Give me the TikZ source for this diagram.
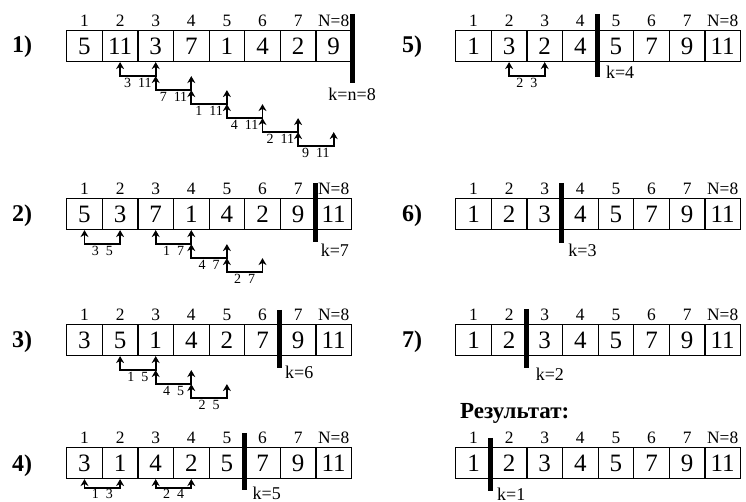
\documentclass[tikz,border=0pt]{standalone}
\usepackage{fontspec}
\setmainfont{Liberation Serif}
\usetikzlibrary{arrows.meta}
\tikzset{
    cell/.style={draw, line width=.6pt, minimum width=17.8pt, minimum height=15.5pt,
        inner sep=0pt, font=\fontsize{12.5}{14}\selectfont},
    idx/.style={inner sep=0pt, font=\fontsize{8.7}{10}\selectfont},
    num/.style={font=\bfseries\fontsize{12}{14}\selectfont},
    xchg/.style={line width=.85pt,
        {Stealth[length=3.5pt,width=4pt]}-{Stealth[length=3.5pt,width=4pt]}},
    pair/.style={below, inner sep=.8pt, font=\fontsize{7}{8}\selectfont},
    kbar/.style={line width=2.5pt},
    klabel/.style={inner sep=0pt, font=\fontsize{9}{10}\selectfont},
}
\begin{document}
\begin{tikzpicture}[x=.5pt, y=-.5pt]
    \useasboundingbox (0,0) rectangle (746,502);
    \node[num] (l1) at (22,47) {1)};
    \foreach \v [count=\i] in {5,11,3,7,1,4,2,9}
        \node[cell] (p1-\i) at ({48.9+35.6*\i},46) {\v};
    \foreach \t [count=\i] in {1,2,3,4,5,6,7,N=8}
        \node[idx, above=1.5pt] at (p1-\i.north) {\t};
    \draw[kbar] ([yshift=8pt]p1-8.north east) -- ([yshift=-10.5pt]p1-8.south east)
        node[klabel, below=1pt] (k1) {k=n=8};
    \draw[xchg] (p1-2.south) -- ++(0,14) -| node[pair, pos=.25] {3\enspace 11} (p1-3.south);
    \draw[xchg] ([yshift=-7pt]p1-3.south) -- ++(0,14) -| node[pair, pos=.25] {7\enspace 11} ([yshift=-7pt]p1-4.south);
    \draw[xchg] ([yshift=-14pt]p1-4.south) -- ++(0,14) -| node[pair, pos=.25] {1\enspace 11} ([yshift=-14pt]p1-5.south);
    \draw[xchg] ([yshift=-21pt]p1-5.south) -- ++(0,14) -| node[pair, pos=.25] {4\enspace 11} ([yshift=-21pt]p1-6.south);
    \draw[xchg] ([yshift=-28pt]p1-6.south) -- ++(0,14) -| node[pair, pos=.25] {2\enspace 11} ([yshift=-28pt]p1-7.south);
    \draw[xchg] ([yshift=-35pt]p1-7.south) -- ++(0,14) -| node[pair, pos=.25] {9\enspace 11} ([yshift=-35pt]p1-8.south);

    \node[num] (l2) at (22,216) {2)};
    \foreach \v [count=\i] in {5,3,7,1,4,2,9,11}
        \node[cell] (p2-\i) at ({48.9+35.6*\i},214) {\v};
    \foreach \t [count=\i] in {1,2,3,4,5,6,7,N=8}
        \node[idx, above=1.5pt] at (p2-\i.north) {\t};
    \draw[kbar] ([yshift=7.5pt]p2-8.north west) -- ([yshift=-6pt]p2-8.south west)
        node[klabel, anchor=west, xshift=1.5pt, yshift=-4pt] (k2) {k=7};
    \draw[xchg] (p2-1.south) -- ++(0,14) -| node[pair, pos=.25] {3\enspace 5} (p2-2.south);
    \draw[xchg] (p2-3.south) -- ++(0,14) -| node[pair, pos=.25] {1\enspace 7} (p2-4.south);
    \draw[xchg] ([yshift=-7pt]p2-4.south) -- ++(0,14) -| node[pair, pos=.25] {4\enspace 7} ([yshift=-7pt]p2-5.south);
    \draw[xchg] ([yshift=-14pt]p2-5.south) -- ++(0,14) -| node[pair, pos=.25] {2\enspace 7} ([yshift=-14pt]p2-6.south);

    \node[num] (l3) at (22,342) {3)};
    \foreach \v [count=\i] in {3,5,1,4,2,7,9,11}
        \node[cell] (p3-\i) at ({48.9+35.6*\i},340) {\v};
    \foreach \t [count=\i] in {1,2,3,4,5,6,7,N=8}
        \node[idx, above=1.5pt] at (p3-\i.north) {\t};
    \draw[kbar] ([yshift=7pt]p3-7.north west) -- ([yshift=-6pt]p3-7.south west)
        node[klabel, anchor=west, xshift=1.5pt, yshift=-2pt] (k3) {k=6};
    \draw[xchg] (p3-2.south) -- ++(0,14) -| node[pair, pos=.25] {1\enspace 5} (p3-3.south);
    \draw[xchg] ([yshift=-7pt]p3-3.south) -- ++(0,14) -| node[pair, pos=.25] {4\enspace 5} ([yshift=-7pt]p3-4.south);
    \draw[xchg] ([yshift=-14pt]p3-4.south) -- ++(0,14) -| node[pair, pos=.25] {2\enspace 5} ([yshift=-14pt]p3-5.south);

    \node[num] (l4) at (22,466) {4)};
    \foreach \v [count=\i] in {3,1,4,2,5,7,9,11}
        \node[cell] (p4-\i) at ({48.9+35.6*\i},463) {\v};
    \foreach \t [count=\i] in {1,2,3,4,5,6,7,N=8}
        \node[idx, above=1.5pt] at (p4-\i.north) {\t};
    \draw[kbar] ([yshift=7pt]p4-6.north west) -- ([yshift=-5.5pt]p4-6.south west)
        node[klabel, anchor=west, xshift=3pt, yshift=-1.5pt] (k4) {k=5};
    \draw[xchg] (p4-1.south) -- ++(0,9) -| node[pair, pos=.25, inner sep=.3pt] {1\enspace 3} (p4-2.south);
    \draw[xchg] (p4-3.south) -- ++(0,9) -| node[pair, pos=.25, inner sep=.3pt] {2\enspace 4} (p4-4.south);

    \node[num] (l5) at (412,47) {5)};
    \foreach \v [count=\i] in {1,3,2,4,5,7,9,11}
        \node[cell] (p5-\i) at ({437.9+35.6*\i},46) {\v};
    \foreach \t [count=\i] in {1,2,3,4,5,6,7,N=8}
        \node[idx, above=1.5pt] at (p5-\i.north) {\t};
    \draw[kbar] ([yshift=8pt]p5-5.north west) -- ([yshift=-7.5pt]p5-5.south west)
        node[klabel, anchor=west, xshift=3pt, yshift=2.5pt] (k5) {k=4};
    \draw[xchg] (p5-2.south) -- ++(0,14) -| node[pair, pos=.25] {2\enspace 3} (p5-3.south);

    \node[num] (l6) at (412,216) {6)};
    \foreach \v [count=\i] in {1,2,3,4,5,7,9,11}
        \node[cell] (p6-\i) at ({437.9+35.6*\i},214) {\v};
    \foreach \t [count=\i] in {1,2,3,4,5,6,7,N=8}
        \node[idx, above=1.5pt] at (p6-\i.north) {\t};
    \draw[kbar] ([yshift=7.5pt]p6-4.north west) -- ([yshift=-6.5pt]p6-4.south west)
        node[klabel, anchor=west, xshift=2pt, yshift=-3.5pt] (k6) {k=3};

    \node[num] (l7) at (412,342) {7)};
    \foreach \v [count=\i] in {1,2,3,4,5,7,9,11}
        \node[cell] (p7-\i) at ({437.9+35.6*\i},340) {\v};
    \foreach \t [count=\i] in {1,2,3,4,5,6,7,N=8}
        \node[idx, above=1.5pt] at (p7-\i.north) {\t};
    \draw[kbar] ([yshift=7.5pt]p7-3.north west) -- ([yshift=-6pt]p7-3.south west)
        node[klabel, anchor=west, xshift=3.5pt, yshift=-3pt] (k7) {k=2};

    \node[num, anchor=west, font=\bfseries\fontsize{11.5}{13}\selectfont] (res) at (453,413) {Результат:};
    \foreach \v [count=\i] in {1,2,3,4,5,7,9,11}
        \node[cell] (p8-\i) at ({437.9+35.6*\i},463) {\v};
    \foreach \t [count=\i] in {1,2,3,4,5,6,7,N=8}
        \node[idx, above=1.5pt] at (p8-\i.north) {\t};
    \draw[kbar] ([yshift=4.5pt]p8-2.north west) -- ([yshift=-6pt]p8-2.south west)
        node[klabel, anchor=west, xshift=2pt, yshift=-1.5pt] (k8) {k=1};
\end{tikzpicture}
\end{document}
